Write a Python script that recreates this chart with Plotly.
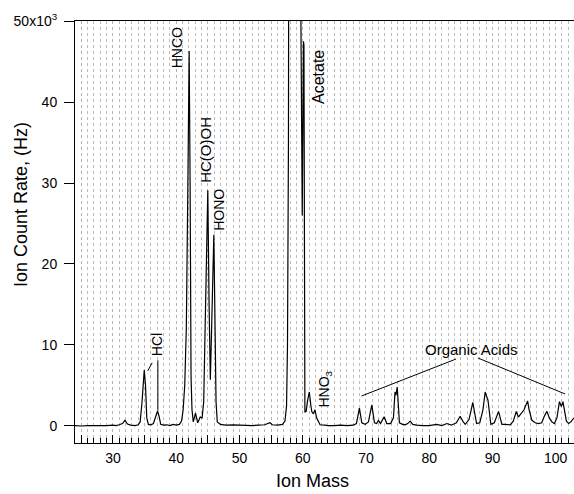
import plotly.graph_objects as go

# ---- data ----
mass = [24.0, 25.0, 26.0, 27.0, 28.0, 29.0, 30.0, 30.5, 31.0, 31.5, 31.9, 32.3, 32.8, 33.5, 34.0,
        34.3, 34.6, 34.95, 35.15, 35.35, 35.6, 36.0, 36.4, 36.7, 37.05, 37.3, 37.55, 38.0, 38.5,
        39.0, 39.5, 40.0, 40.5, 40.85, 41.1, 41.35, 41.6, 41.85, 42.05, 42.2, 42.35, 42.5, 42.7,
        43.05, 43.4, 43.8, 44.1, 44.35, 44.6, 44.85, 45.0, 45.2, 45.4, 45.6, 45.8, 45.95, 46.1,
        46.3, 46.5, 47.0, 47.5, 48.0, 49.0, 50.0, 51.0, 52.0, 53.0, 54.0, 54.8, 55.2, 56.0, 56.8,
        57.2, 57.45, 57.6, 57.75, 57.9, 58.5, 59.0, 59.3, 59.55, 59.8, 59.93, 60.12, 60.2, 60.35,
        60.55, 60.75, 61.05, 61.3, 61.45, 61.7, 61.95, 62.2, 62.5, 62.75, 63.5, 64.0, 65.0, 66.0,
        67.0, 68.0, 68.5, 68.97, 69.35, 69.87, 70.4, 70.93, 71.35, 71.7, 71.98, 72.3, 72.88, 73.3,
        73.9, 74.35, 74.6, 74.75, 74.95, 75.3, 75.8, 76.2, 76.6, 77.0, 77.4, 78.0, 79.0, 80.0,
        81.2, 82.0, 82.8, 83.5, 84.3, 84.9, 85.4, 85.7, 86.3, 86.9, 87.5, 88.0, 88.5, 88.86, 89.1,
        89.3, 89.75, 90.3, 90.97, 91.5, 92.0, 92.8, 93.3, 93.77, 94.1, 94.4, 95.0, 95.56, 95.8,
        96.25, 96.77, 97.3, 97.8, 98.2, 98.62, 99.0, 99.4, 99.8, 100.2, 100.6, 100.9, 101.15,
        101.4, 101.7, 102.06, 102.4, 102.9]
rate_k = [0.05, 0.0, 0.05, 0.02, 0.08, 0.05, 0.1, 0.05, 0.15, 0.3, 0.7, 0.25, 0.1, 0.05, 0.15,
          0.5, 3.0, 6.9, 5.0, 1.0, 0.2, 0.15, 0.3, 1.0, 1.85, 1.2, 0.2, 0.1, 0.15,
          0.05, 0.2, 0.1, 0.2, 0.6, 2.0, 5.0, 12.0, 30.0, 46.3, 30.0, 6.0, 2.0, 0.5,
          1.6, 0.4, 1.1, 1.0, 3.0, 12.0, 25.0, 29.1, 15.0, 5.7, 12.0, 22.0, 23.6, 15.0,
          3.0, 0.5, 0.2, 0.15, 0.1, 0.15, 0.1, 0.1, 0.05, 0.1, 0.15, 0.4, 0.15, 0.1, 0.2,
          0.6, 2.5, 10.0, 35.0, 120.0, 300.0, 400.0, 200.0, 70.0, 30.0, 26.0, 47.5, 47.0, 1.7,
          1.8, 3.0, 4.2, 2.5, 1.75, 1.5, 2.0, 1.0, 0.4, 0.15, 0.1, 0.05, 0.05, 0.1,
          0.05, 0.1, 0.3, 2.2, 0.4, 0.2, 0.5, 2.6, 0.4, 0.3, 0.7, 0.3, 1.15, 0.3,
          0.3, 1.0, 4.2, 3.8, 4.8, 0.4, 0.2, 0.15, 0.3, 0.6, 0.2, 0.1, 0.05, 0.05,
          0.2, 0.05, 0.3, 0.1, 0.4, 1.2, 0.5, 0.2, 0.8, 2.9, 0.3, 0.4, 2.0, 4.2, 3.6,
          3.2, 0.2, 0.4, 1.8, 0.2, 0.2, 0.15, 0.6, 1.8, 1.1, 1.4, 2.0, 3.1, 2.0,
          0.7, 0.4, 0.3, 0.4, 1.2, 1.8, 1.0, 0.5, 0.3, 1.0, 3.0, 2.4, 3.0,
          1.8, 0.6, 0.3, 0.5, 1.0]
rate_hz = [v * 1000 for v in rate_k]

x_range = [24.0, 102.9]
y_range = [-2100, 50000]
y_tickvals = [0, 10000, 20000, 30000, 40000, 50000]
y_ticktext = ["0", "10", "20", "30", "40", "50x10<sup>3</sup>"]
x_tickvals = list(range(25, 105, 5))
x_ticktext = [str(v) if v % 10 == 0 else "" for v in x_tickvals]

# peak labels: text, x (mass), y (Hz), font size
labels = [
    ("HNCO", 40.05, 46700, 14),
    ("HC(O)OH", 44.72, 34100, 15),
    ("HONO", 46.77, 26700, 14),
    ("Acetate", 62.6, 43100, 16),
    ("HNO<sub>3</sub>", 63.5, 4600, 14),
    ("HCl", 37.0, 10000, 14),
]
organic_label = ("Organic Acids", 86.65, 9500, 15)
# leader lines: x0, y0, x1, y1
leaders = [
    (37.1, 1900, 37.1, 8100),
    (35.5, 6800, 36.2, 7800),
    (84.25, 8270, 69.3, 3700),
    (87.7, 8400, 101.5, 3950),
]

FONT = "Liberation Sans, Arial, Helvetica, sans-serif"

fig = go.Figure()
fig.add_trace(go.Scatter(x=mass, y=rate_hz, mode="lines",
                         line=dict(color="black", width=1.2), showlegend=False))

for txt, xv, yv, fs in labels:
    fig.add_annotation(x=xv, y=yv, text=txt, showarrow=False, textangle=-90,
                       xanchor="center", yanchor="middle",
                       font=dict(family=FONT, size=fs, color="black"))
fig.add_annotation(x=organic_label[1], y=organic_label[2], text=organic_label[0],
                   showarrow=False, xanchor="center", yanchor="middle",
                   font=dict(family=FONT, size=organic_label[3], color="black"))

for x0, y0, x1, y1 in leaders:
    fig.add_shape(type="line", x0=x0, y0=y0, x1=x1, y1=y1, xref="x", yref="y",
                  line=dict(color="black", width=1))

# axis titles
fig.add_annotation(xref="paper", yref="paper", x=(312 - 75) / 499, y=(443 - 481) / 422,
                   text="Ion Mass", showarrow=False, xanchor="center", yanchor="middle",
                   font=dict(family=FONT, size=18, color="black"))
fig.add_annotation(xref="paper", yref="paper", x=(21 - 75) / 499, y=(443 - 205) / 422,
                   text="Ion Count Rate, (Hz)", showarrow=False, textangle=-90,
                   xanchor="center", yanchor="middle",
                   font=dict(family=FONT, size=18, color="black"))

fig.update_layout(
    width=574, height=494,
    margin=dict(l=75, r=0, t=21, b=51),
    paper_bgcolor="white", plot_bgcolor="white",
    font=dict(family=FONT, size=14, color="black"),
    xaxis=dict(range=x_range, tickvals=x_tickvals, ticktext=x_ticktext,
               ticks="inside", ticklen=8, tickwidth=1, tickcolor="black",
               showline=True, linecolor="black", linewidth=1, mirror=True,
               showgrid=True, gridcolor="#b4b4b4", griddash="dot", gridwidth=1,
               zeroline=False, tickfont=dict(size=14), ticklabelstandoff=2,
               minor=dict(dtick=1, ticks="inside", ticklen=5, tickcolor="black",
                          showgrid=True, gridcolor="#bcbcbc", griddash="dot", gridwidth=1)),
    yaxis=dict(range=y_range, tickvals=y_tickvals, ticktext=y_ticktext,
               ticks="outside", ticklen=10, tickwidth=1, tickcolor="black",
               showline=True, linecolor="black", linewidth=1,
               showgrid=False, zeroline=False, tickfont=dict(size=14),
               ticklabelstandoff=4),
)

fig.write_html("out.html", config={"displayModeBar": False},
               post_script="document.body.style.margin='0';document.body.style.overflow='hidden';")
